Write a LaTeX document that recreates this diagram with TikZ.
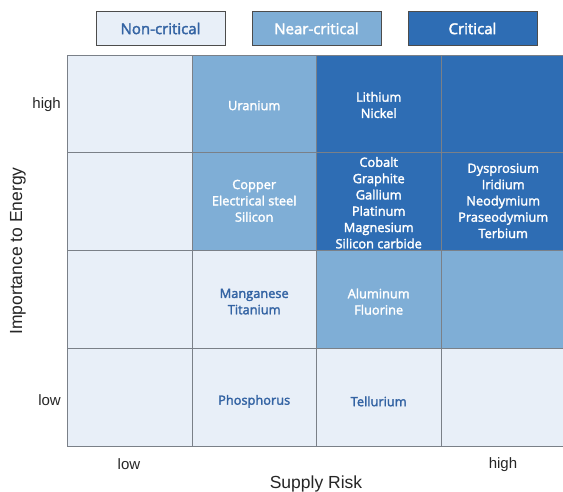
\documentclass[tikz,border=0pt]{standalone}
\usepackage{fontspec}
\setmainfont{Open Sans}
\newfontfamily\cellfont{Open Sans}[FakeBold=2.2]
\newfontfamily\axfont{Liberation Sans}
\definecolor{lightc}{HTML}{E8EFF8}
\definecolor{medc}{HTML}{7FAED6}
\definecolor{darkc}{HTML}{2E6DB4}
\definecolor{txtc}{HTML}{3363A3}
\definecolor{gridc}{HTML}{7A8088}
\tikzset{
  cell/.style={draw=gridc, line width=0.8pt, minimum width=124.5pt, minimum height=97.8pt, inner sep=0pt},
  lowcell/.style={cell, fill=lightc},
  midcell/.style={cell, fill=medc},
  highcell/.style={cell, fill=darkc},
  celltext/.style={align=center, inner sep=0pt, font=\cellfont\fontsize{12.8}{16.3}\selectfont},
  lowtext/.style={celltext, text=txtc},
  hightext/.style={celltext, text=white},
  legbox/.style={draw=black!70, line width=0.9pt, minimum width=129pt, minimum height=34pt, inner sep=0pt, font=\cellfont\fontsize{15}{17}\selectfont},
  axlab/.style={font=\axfont\fontsize{17.5}{20}\selectfont, text=black!85, inner sep=0pt},
  ticklab/.style={font=\axfont\fontsize{15}{18}\selectfont, text=black!85, inner sep=0pt}
}
\begin{document}
\begin{tikzpicture}[x=1pt,y=-1pt]
\useasboundingbox (0,0) rectangle (563,492);
\fill[white] (0,0) rectangle (563,492);
\begin{scope}
\clip (0,0) rectangle (563,492);
% row 1
\node[lowcell]  (c11) at (129.7,104) {};
\node[midcell]  (c12) at (254.2,104) {};
\node[highcell] (c13) at (378.7,104) {};
\node[highcell] (c14) at (503.2,104) {};
% row 2
\node[lowcell]  (c21) at (129.7,201.8) {};
\node[midcell]  (c22) at (254.2,201.8) {};
\node[highcell] (c23) at (378.7,201.8) {};
\node[highcell] (c24) at (503.2,201.8) {};
% row 3
\node[lowcell]  (c31) at (129.7,299.6) {};
\node[lowcell]  (c32) at (254.2,299.6) {};
\node[midcell]  (c33) at (378.7,299.6) {};
\node[midcell]  (c34) at (503.2,299.6) {};
% row 4
\node[lowcell]  (c41) at (129.7,397.4) {};
\node[lowcell]  (c42) at (254.2,397.4) {};
\node[lowcell]  (c43) at (378.7,397.4) {};
\node[lowcell]  (c44) at (503.2,397.4) {};
\end{scope}
% cell texts
\node[hightext] (t12) at ([yshift=-1.5pt]c12.center) {Uranium};
\node[hightext] (t13) at ([yshift=-1pt]c13.center) {Lithium\\Nickel};
\node[hightext] (t22) at ([yshift=1pt]c22.center) {Copper\\Electrical steel\\Silicon};
\node[hightext] (t23) at ([yshift=-1pt]c23.center) {Cobalt\\Graphite\\Gallium\\Platinum\\Magnesium\\Silicon carbide};
\node[hightext] (t24) at ([yshift=1pt]c24.center) {Dysprosium\\Iridium\\Neodymium\\Praseodymium\\Terbium};
\node[lowtext]  (t32) at ([yshift=-2pt]c32.center) {Manganese\\Titanium};
\node[hightext] (t33) at ([yshift=-2pt]c33.center) {Aluminum\\Fluorine};
\node[lowtext]  (t42) at ([yshift=-4pt]c42.center) {Phosphorus};
\node[lowtext]  (t43) at ([yshift=-4pt]c43.center) {Tellurium};
% legend
\node[legbox, fill=lightc, text=txtc] (l1) at (160.5,28.5) {Non-critical};
\node[legbox, fill=medc, text=white]  (l2) at (316.5,28.5) {Near-critical};
\node[legbox, fill=darkc, text=white] (l3) at (472.5,28.5) {Critical};
% axis labels
\node[ticklab, anchor=east] (yh) at (61,105) {high};
\node[ticklab, anchor=east] (yl) at (61,400) {low};
\node[ticklab] (xl) at (129,464) {low};
\node[ticklab] (xh) at (503,464.5) {high};
\node[axlab, rotate=90] (ya) at (18,251) {Importance to Energy};
\node[axlab] (xa) at (316,484) {Supply Risk};
\end{tikzpicture}
\end{document}
